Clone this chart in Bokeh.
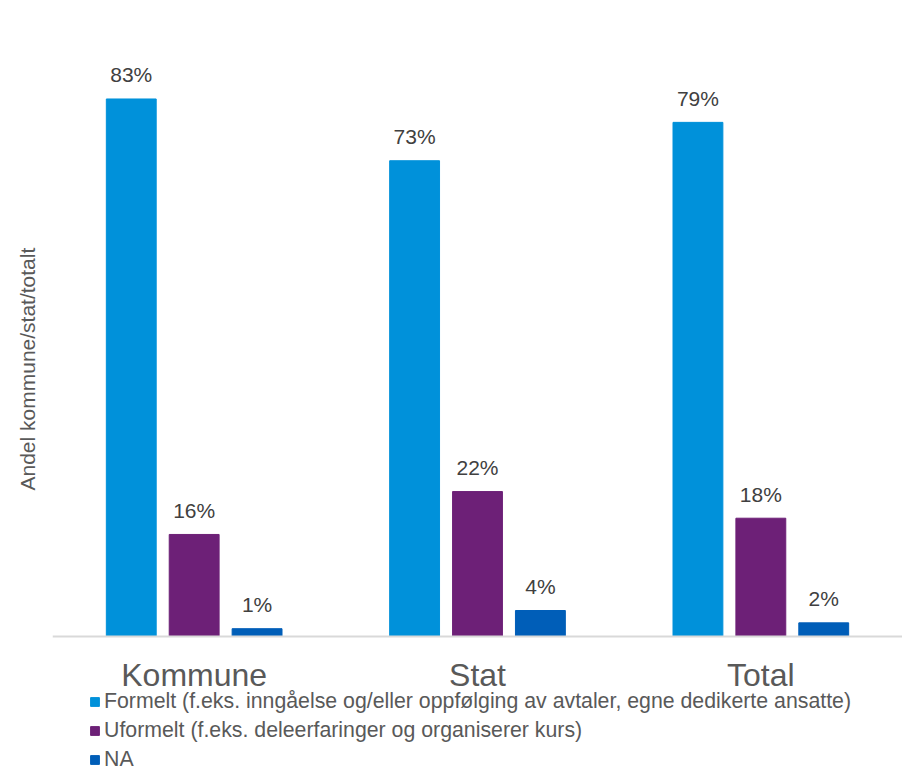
from bokeh.plotting import figure
from bokeh.models import ColumnDataSource, FactorRange, Range1d, Legend, LegendItem, Title, Span
from bokeh.transform import dodge
from bokeh.core.properties import value
from bokeh.embed import file_html
from bokeh.resources import INLINE

categories = ["Kommune", "Stat", "Total"]
series_names = [
    "Formelt (f.eks. inngåelse og/eller oppfølging av avtaler, egne dedikerte ansatte)",
    "Uformelt (f.eks. deleerfaringer og organiserer kurs)",
    "NA",
]
formelt = [82.7, 73.2, 79.1]
uformelt = [15.7, 22.3, 18.2]
na = [1.2, 4.0, 2.1]
colors = ["#0091DA", "#6D2077", "#005EB8"]
y_label = "Andel kommune/stat/totalt"

FONT = "Liberation Sans"

def pct(vals):
    return [f"{round(v)}%" for v in vals]

source = ColumnDataSource(dict(
    cat=categories,
    formelt=formelt, uformelt=uformelt, na=na,
    formelt_lbl=pct(formelt), uformelt_lbl=pct(uformelt), na_lbl=pct(na),
))

# 6.5 px per percentage point; frame spans the full 771 px height
p = figure(
    x_range=FactorRange(*categories, range_padding=0),
    y_range=Range1d(-20.77, 97.85),
    width=902, height=771,
    output_backend="svg", toolbar_location=None,
    min_border_left=52, min_border_right=0, min_border_top=0, min_border_bottom=0,
    background_fill_color="white", border_fill_color="white",
)
p.outline_line_color = None
p.xgrid.grid_line_color = None
p.ygrid.grid_line_color = None
p.xaxis.visible = False
p.yaxis.visible = False

# baseline (category axis line)
p.add_layout(Span(location=0, dimension="width", line_color="#D9D9D9", line_width=2))

offset = 0.222
bar_w = 0.176
cols = ["formelt", "uformelt", "na"]
renderers = []
for i, c in enumerate(cols):
    dx = (i - 1) * offset
    r = p.vbar(x=dodge("cat", dx, range=p.x_range), top=c, width=bar_w,
               source=source, fill_color=colors[i], line_color=colors[i])
    renderers.append(r)
    p.text(x=dodge("cat", dx, range=p.x_range), y=c, text=c + "_lbl", source=source,
           text_align="center", text_baseline="alphabetic", y_offset=-24,
           text_font_size="21px", text_color="#404040", text_font=value(FONT))

# category labels under the baseline
p.text(x="cat", y=0, text="cat", source=source, text_align="center",
       text_baseline="alphabetic", y_offset=38,
       text_font_size="32px", text_color="#595959", text_font=value(FONT))

p.add_layout(Title(
    text=y_label, align="left", offset=281, standoff=27, text_line_height=0.9,
    text_font_size="21px", text_font_style="normal", text_color="#595959", text_font=FONT,
), "left")

legend = Legend(
    items=[LegendItem(label=series_names[i], renderers=[renderers[i]]) for i in range(3)],
    location=(37, -1), orientation="vertical",
    label_text_font_size="21.3px", label_text_color="#595959", label_text_font=FONT,
    glyph_width=11, glyph_height=11, label_standoff=4, spacing=4,
    padding=0, margin=0, border_line_color=None, background_fill_alpha=0,
    label_height=21,
)
p.add_layout(legend, "center")

open("out.html", "w").write(file_html(p, INLINE))
